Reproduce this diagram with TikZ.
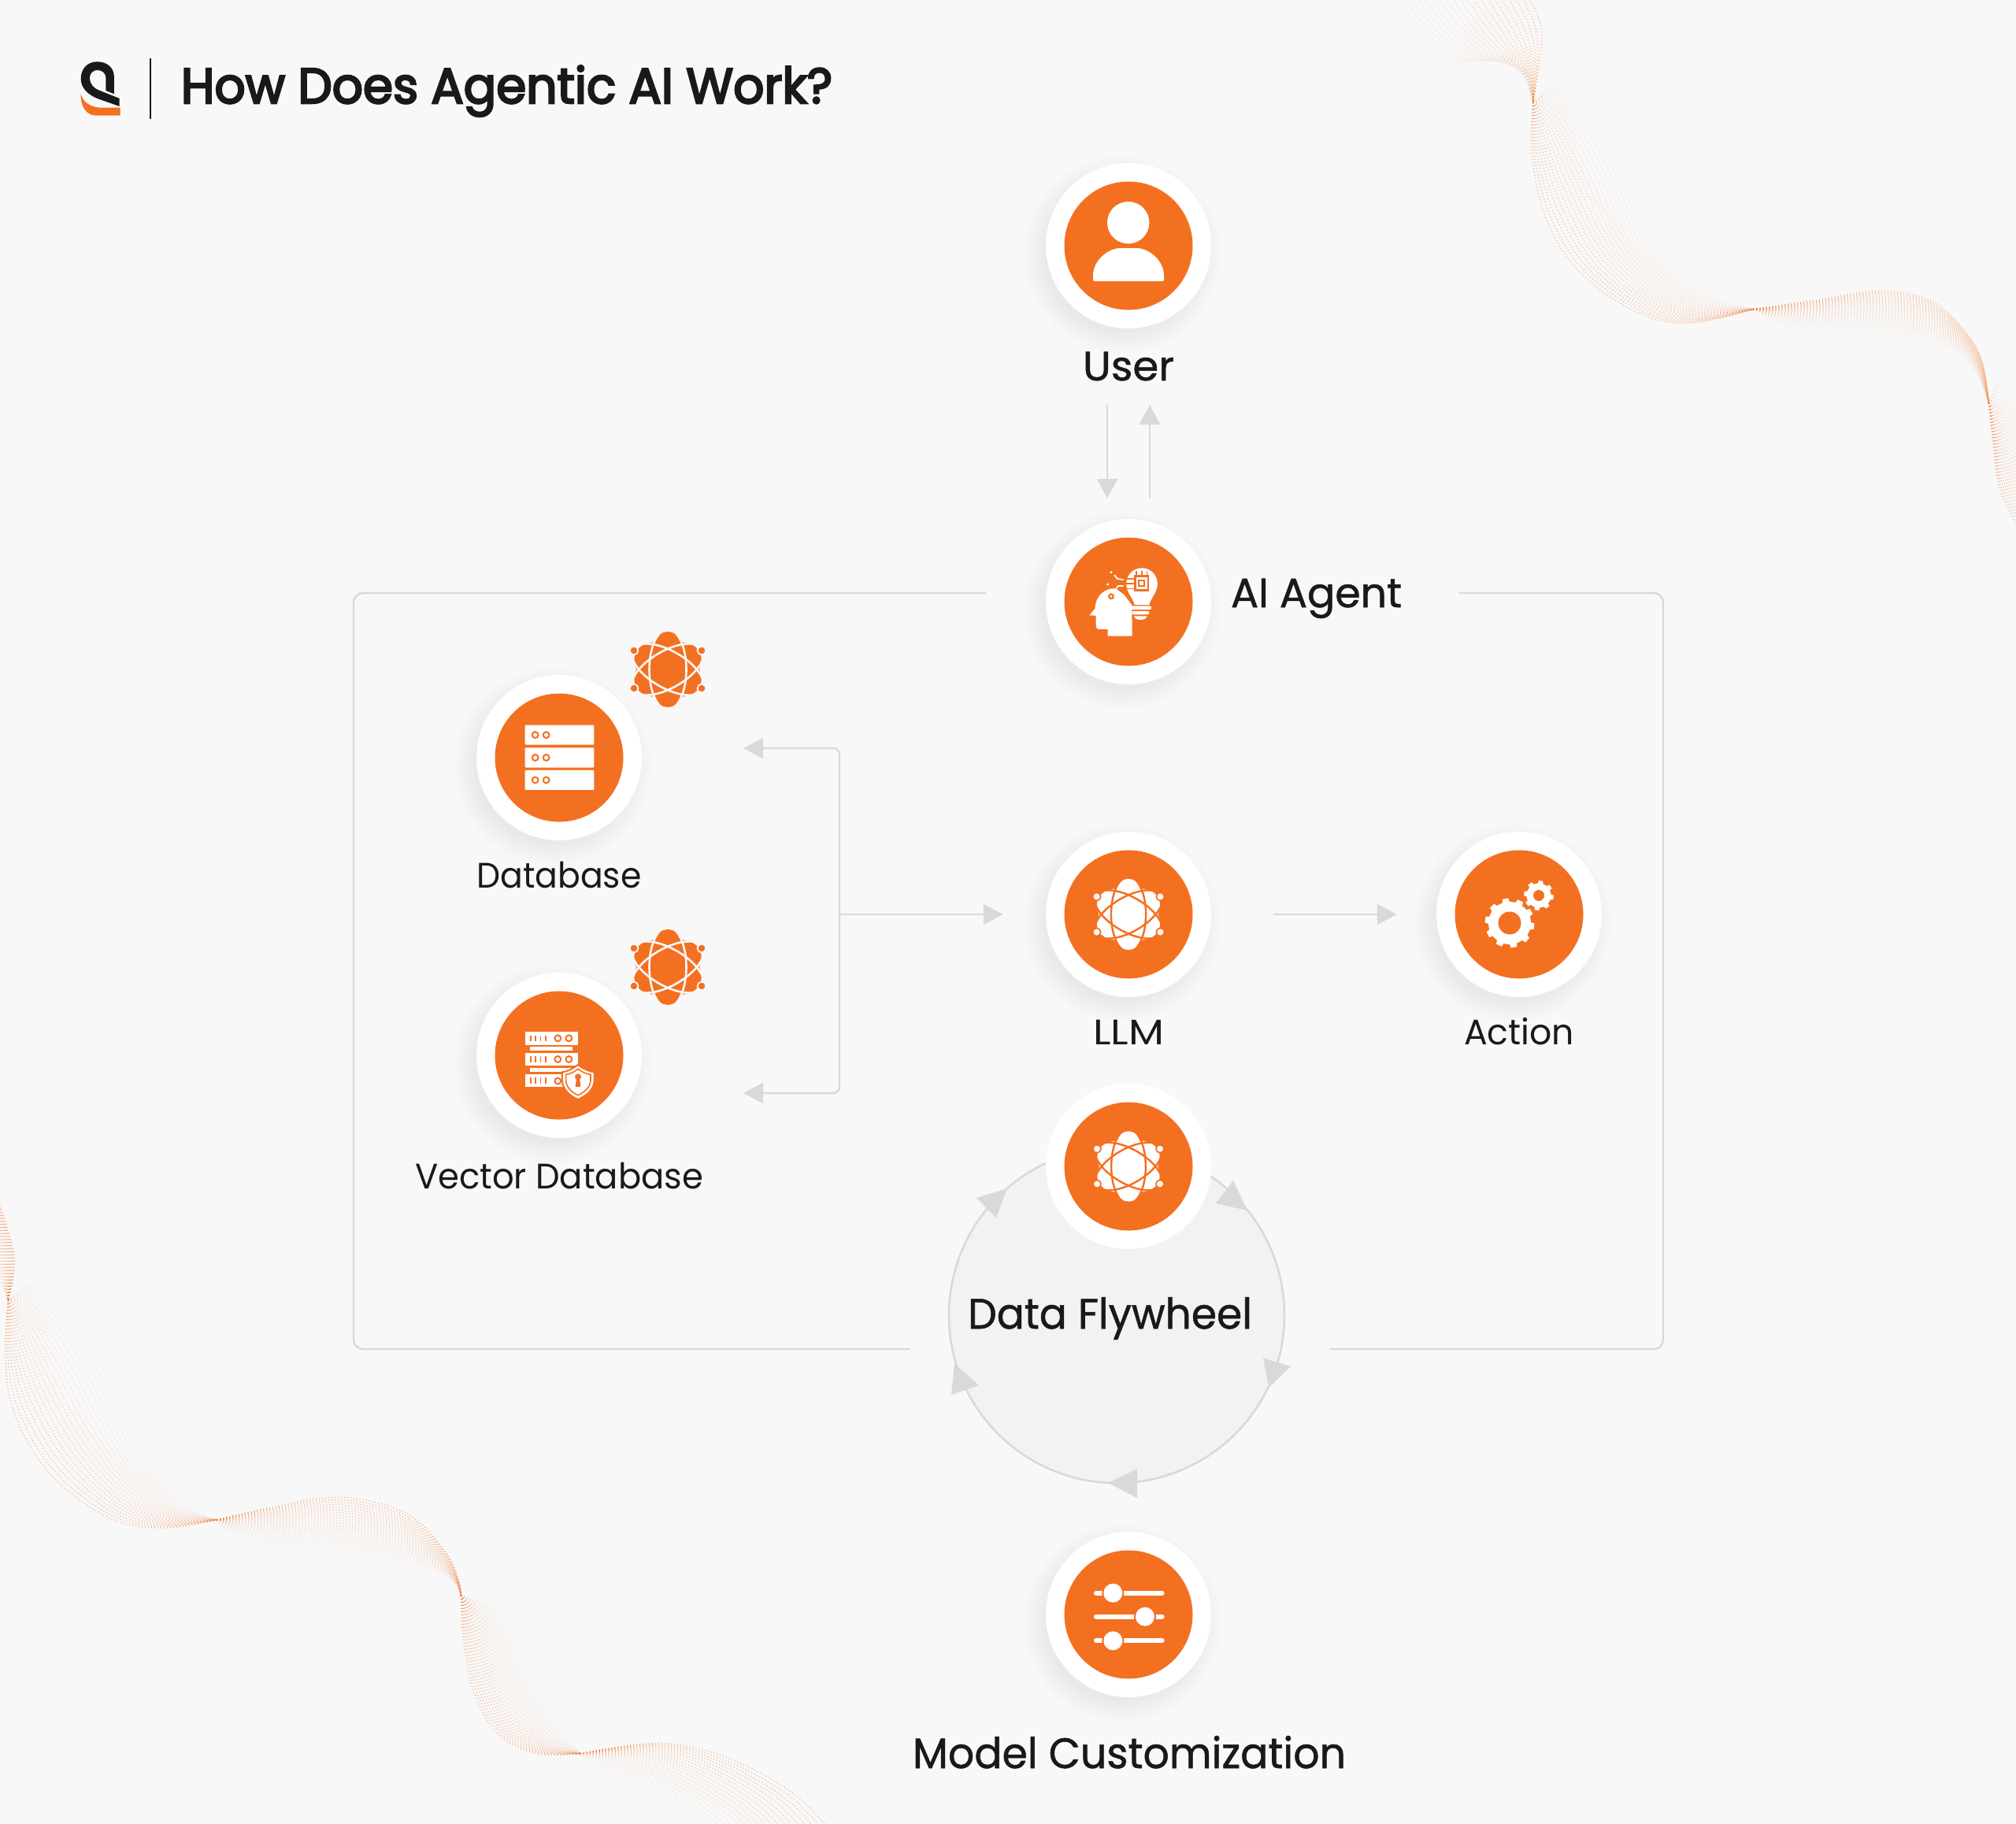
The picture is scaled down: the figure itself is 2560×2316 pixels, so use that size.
\documentclass[tikz,border=0pt]{standalone}
\usepackage{fontspec}
\usepackage{graphicx}
\usetikzlibrary{arrows.meta,shapes.geometric}
\setmainfont{Poppins}
\newfontfamily\ftitle{Poppins}[FakeBold=4]
\newfontfamily\fmedium{Poppins}[FakeBold=1]
\newfontfamily\flabel{Poppins}
\definecolor{bgc}{HTML}{F8F8F8}
\definecolor{brand}{HTML}{F47021}
\definecolor{ink}{HTML}{18191B}
\definecolor{connc}{HTML}{D9D9D9}
\definecolor{wheelc}{HTML}{F2F2F3}
\definecolor{shadowc}{HTML}{8E90AE}
\tikzset{
  whitedisc/.style={circle,fill=white,minimum size=210pt,inner sep=0pt},
  coredisc/.style={circle,fill=brand,minimum size=163pt,inner sep=0pt},
  boxline/.style={draw=connc,line width=2.4pt,rounded corners=12pt},
  conn/.style={draw=connc,line width=2.4pt,-{Triangle[length=25pt,width=26pt]}},
  tipfill/.style={fill=connc},
  wavedots/.style={draw=brand,line width=1.3pt,dash pattern=on 1pt off 3pt},
  lbl/.style={anchor=base,text=ink,inner sep=0pt,outer sep=0pt},
}
% fit text to width keeping natural height
\newcommand{\fittext}[4]{\resizebox{#1pt}{\height}{#4\fontsize{#2}{#2}\selectfont #3}}
\newcommand{\softshadow}[2]{%
  \foreach \rr in {98,100,...,126}{\fill[shadowc,opacity=.008] (#1-8,#2+11) circle[radius=\rr pt];}}
\newcommand{\wavelobe}[1]{%
  \foreach \k in {0,...,25}{%
    \pgfmathsetmacro\tt{\k/25}%
    \pgfmathsetmacro\op{0.52*(1-\tt)^1.15+0.03}%
    \gdef\pts{}%
    \foreach \xa/\ya/\xb/\yb in {#1}{%
      \pgfmathsetmacro\px{\xa+(\xb-\xa)*\tt}%
      \pgfmathsetmacro\py{\ya+(\yb-\ya)*\tt}%
      \xdef\pts{\pts (\px,\py)}%
    }%
    \edef\tmpdraw{\noexpand\draw[wavedots,opacity=\op] plot[smooth,tension=.6] coordinates {\pts};}%
    \tmpdraw
  }}
\newcommand{\atomicon}[5]{% cx cy scale fg bg
  \begin{scope}[shift={(#1,#2)},x=#3pt,y=-#3pt]
    \fill[#4] (0,0) ellipse[x radius=27,y radius=48];
    \fill[#4,rotate=60] (0,0) ellipse[x radius=30,y radius=46];
    \fill[#4,rotate=-60] (0,0) ellipse[x radius=30,y radius=46];
    \draw[#5,line width=#3*2.6pt] (0,0) ellipse[x radius=23.5,y radius=51];
    \draw[#5,line width=#3*2.6pt,rotate=60] (0,0) ellipse[x radius=23.5,y radius=51];
    \draw[#5,line width=#3*2.6pt,rotate=-60] (0,0) ellipse[x radius=23.5,y radius=51];
    \foreach \sx/\sy in {-43/-24,43/-24,-43/24,43/24}{
      \filldraw[fill=#4,draw=#5,line width=#3*1.8pt] (\sx,\sy) circle[radius=5.4];}
  \end{scope}}
\newcommand{\gearicon}[6]{% cx cy Rout Rin teeth hole
  \begin{scope}[shift={(#1,#2)}]
    \fill[white] (0,0) circle[radius=#4];
    \pgfmathsetmacro\stepa{360/#5}
    \foreach \i in {1,...,#5}{
      \pgfmathsetmacro\aa{\i*\stepa+8}
      \fill[white] ({\aa-.30*\stepa}:#4-1) -- ({\aa-.19*\stepa}:#3) -- ({\aa+.19*\stepa}:#3) -- ({\aa+.30*\stepa}:#4-1) -- cycle;
    }
    \fill[brand] (0,0) circle[radius=#6];
  \end{scope}}
\begin{document}
\begin{tikzpicture}[x=1pt,y=-1pt]
\useasboundingbox (0,0) rectangle (2560,2316);
\fill[bgc] (0,0) rectangle (2560,2316);

% dotted ribbons
\begin{scope}
\clip (0,0) rectangle (2560,2316);
\begin{scope}[shift={(1700,0)},x=.5485pt,y=-.4337pt]
\wavelobe{440/-10/30/-10,465/60/120/110,470/120/230/180,465/180/350/178,458/240/420/210,450/300/450/300}
\wavelobe{450/300/450/300,447/450/560/210,480/640/680/350,560/800/740/580,700/920/790/760,820/945/860/860,960/905/960/905}
\wavelobe{960/905/960/905,1100/880/1050/960,1250/852/1200/985,1370/880/1330/995,1450/970/1420/1025,1490/1060/1470/1080,1505/1180/1505/1180}
\wavelobe{1505/1180/1505/1180,1515/1300/1530/1100,1530/1430/1560/1110,1575/1550/1620/1250}
\end{scope}
\begin{scope}[shift={(0,1500)},x=.6887pt,y=-.5208pt]
\wavelobe{0/60/-40/60,25/170/-20/170,25/230/-5/230,15/290/15/290}
\wavelobe{15/290/15/290,10/420/100/230,25/560/200/330,90/710/265/500,200/820/290/650,300/845/320/770,400/825/400/825}
\wavelobe{400/825/400/825,500/795/450/880,630/770/580/925,750/810/700/935,820/900/790/945,845/970/835/975,850/1010/850/1010}
\wavelobe{850/1010/850/1010,855/1120/930/1050,875/1250/990/1180,920/1350/1025/1280,990/1395/1050/1350,1070/1395/1070/1395}
\wavelobe{1070/1395/1070/1395,1220/1370/1090/1440,1350/1410/1140/1500,1470/1500/1200/1560,1540/1600/1260/1620}
\end{scope}
\end{scope}

% logo
\begin{scope}[shift={(90,65)},x=.3333pt,y=-.3333pt]
\fill[ink] (165,163) -- (165,100) .. controls (165,60) and (135,40) .. (100,40) .. controls (65,40) and (38,65) .. (38,105) .. controls (38,140) and (65,165) .. (100,180) -- (185,210) -- (185,180) -- (110,150) .. controls (85,140) and (72,125) .. (72,100) .. controls (72,85) and (85,72) .. (100,72) .. controls (120,72) and (133,85) .. (133,100) -- (133,150) -- cycle;
\fill[brand] (38,162) .. controls (35,210) and (60,245) .. (95,245) -- (188,245) -- (188,215) -- (110,215) .. controls (75,212) and (45,195) .. (38,162) -- cycle;
\end{scope}
\draw[ink,line width=2.6pt] (191,74) -- (191,151);
\node[lbl,anchor=base west] (title) at (230,131) {\fittext{827}{63}{How Does Agentic AI Work?}{\ftitle}};

% frame
\coordinate (boxTL) at (1252,753);
\coordinate (boxTR) at (1853,753);
\coordinate (boxBL) at (1156,1713);
\coordinate (boxBR) at (1688,1713);
\draw[boxline] (boxTL) -- (449,753) -- (449,1713) -- (boxBL);
\draw[boxline] (boxTR) -- (2112,753) -- (2112,1713) -- (boxBR);

% flywheel ring
\node[circle,fill=wheelc,draw=connc,line width=2.6pt,minimum size=426pt,inner sep=0pt] (wheel) at (1418,1670) {};
\fill[tipfill] (1240,1521) -- (1279,1509) -- (1265,1546) -- cycle;
\fill[tipfill] (1566,1499) -- (1544,1528) -- (1584,1537) -- cycle;
\fill[tipfill] (1604,1724) -- (1639,1735) -- (1611,1762) -- cycle;
\fill[tipfill] (1444,1865) -- (1407,1883) -- (1444,1902) -- cycle;
\fill[tipfill] (1212,1731) -- (1243,1759) -- (1208,1771) -- cycle;

% shadows
\softshadow{1433}{312}
\softshadow{1433}{764}
\softshadow{710}{962}
\softshadow{710}{1340}
\softshadow{1433}{1161}
\softshadow{1929}{1161}
\softshadow{1433}{2050}

% discs
\node[whitedisc] (user) at (1433,312) {};
\node[coredisc] at (user) {};
\node[whitedisc] (agent) at (1433,764) {};
\node[coredisc] at (agent) {};
\node[whitedisc] (db) at (710,962) {};
\node[coredisc] at (db) {};
\node[whitedisc] (vdb) at (710,1340) {};
\node[coredisc] at (vdb) {};
\node[whitedisc] (llm) at (1433,1161) {};
\node[coredisc] at (llm) {};
\node[whitedisc] (action) at (1929,1161) {};
\node[coredisc] at (action) {};
\node[whitedisc] (fly) at (1433,1481) {};
\node[coredisc] at (fly) {};
\node[whitedisc] (model) at (1433,2050) {};
\node[coredisc] at (model) {};

% connectors
\coordinate (userDownA) at (1406,514);
\coordinate (userDownB) at (1406,633);
\coordinate (userUpA) at (1460,633);
\coordinate (userUpB) at (1460,514);
\draw[conn] (userDownA) -- (userDownB);
\draw[conn] (userUpA) -- (userUpB);
\coordinate (dbTip) at (944,950);
\coordinate (vdbTip) at (944,1388);
\coordinate (junction) at (1066,1161);
\draw[conn,{Triangle[length=25pt,width=26pt]}-{Triangle[length=25pt,width=26pt]},rounded corners=8pt] (dbTip) -- (1066,950) -- (1066,1388) -- (vdbTip);
\draw[conn,shorten >=54pt] (junction) -- (llm);
\draw[conn,shorten <=79pt,shorten >=50pt] (llm) -- (action);

% user icon
\fill[white] (1432.7,282.7) circle[radius=26.7];
\fill[white,rounded corners=2pt] (1388,357) -- (1388,352) .. controls (1388,330) and (1408,315) .. (1425,315) -- (1441,315) .. controls (1458,315) and (1478,330) .. (1478,352) -- (1478,357) -- cycle;

% agent icon
\begin{scope}[shift={(1300,640)},x=.3333pt,y=-.3333pt]
\fill[white] (250,424) -- (272,398) .. controls (272,350) and (310,318) .. (350,322) -- (382,345) -- (412,385) -- (413,503) -- (320,503) -- (320,477) -- (285,477) .. controls (278,477) and (275,470) .. (275,462) -- (275,425) -- cycle;
\fill[brand] (333,352) circle[radius=12];
\fill[white] (333,352) circle[radius=5];
\filldraw[fill=white,draw=brand,line width=1.6pt] (420,387) .. controls (415,360) and (388,340) .. (388,303) .. controls (388,268) and (416,241) .. (450,241) .. controls (484,241) and (512,268) .. (512,303) .. controls (512,340) and (485,360) .. (480,387) -- cycle;
\fill[white,rounded corners=2pt] (403,388) rectangle (486,402);
\fill[white,rounded corners=2pt] (412,408) rectangle (478,421);
\fill[white] (420,427) -- (470,427) .. controls (468,436) and (458,441) .. (445,441) .. controls (432,441) and (422,436) .. (420,427) -- cycle;
\fill[brand] (420,270) rectangle (478,332);
\fill[white] (428,278) rectangle (470,324);
\fill[brand] (436,287) rectangle (462,315);
\fill[white] (442,294) rectangle (456,308);
\foreach \px in {428,449,470}{\fill[brand] (\px-2.5,256) rectangle (\px+2.5,270);}
\foreach \py in {285,303,322}{\fill[brand] (382,\py-2.5) rectangle (420,\py+2.5);}
\fill[white] (333,260) circle[radius=5];
\fill[white] (320,306) circle[radius=5];
\draw[white,line width=1.8pt] (345,270) -- (357,285) -- (380,288);
\draw[white,line width=1.8pt] (352,322) -- (360,312) -- (380,312);
\end{scope}

% database icon
\begin{scope}[shift={(580,780)},x=.3333pt,y=-.3333pt]
\foreach \ya/\yb in {422/497,508/584,594/669}{
  \fill[white,rounded corners=1pt] (260,\ya) rectangle (523,\yb);
  \foreach \cxx in {299,341}{
    \fill[brand] (\cxx,{(\ya+\yb)/2}) circle[radius=15];
    \fill[white] (\cxx,{(\ya+\yb)/2}) circle[radius=8];
  }}
\end{scope}
\atomicon{848}{850}{1}{brand}{bgc}

% vector database icon
\begin{scope}[shift={(580,1160)},x=.3333pt,y=-.3333pt]
\fill[white] (260,450) rectangle (461,500);
\fill[white] (280,508) rectangle (440,522);
\fill[white] (260,532) rectangle (461,578);
\fill[white] (280,588) rectangle (440,602);
\fill[white] (260,612) rectangle (420,660);
\foreach \yy/\hh in {475/11,555/11,636/11}{
  \foreach \tx in {283,301,320,340}{\fill[brand] (\tx-2.5,\yy-\hh) rectangle (\tx+2.5,\yy+\hh);}}
\foreach \cxx/\cyy in {385/475,427/475,385/555,427/555,385/638}{
  \fill[brand] (\cxx,\cyy) circle[radius=15];
  \fill[white] (\cxx,\cyy) circle[radius=8];}
\filldraw[fill=white,draw=brand,line width=2pt] (462,576) .. controls (482,592) and (505,602) .. (524,604) -- (524,635) .. controls (524,672) and (490,696) .. (462,708) .. controls (434,696) and (402,672) .. (402,635) -- (402,604) .. controls (420,602) and (442,592) .. (462,576) -- cycle;
\draw[brand,line width=1.6pt] (462,592) .. controls (478,604) and (496,612) .. (510,613) -- (510,635) .. controls (510,662) and (484,682) .. (462,692) .. controls (440,682) and (416,662) .. (416,635) -- (416,613) .. controls (430,612) and (446,604) .. (462,592) -- cycle;
\fill[brand] (462,622) circle[radius=12];
\fill[brand] (456,625) -- (468,625) -- (472,660) -- (452,660) -- cycle;
\end{scope}
\atomicon{848}{1228}{1}{brand}{bgc}

% llm + flywheel icons
\atomicon{1433}{1161}{.94}{white}{brand}
\atomicon{1433}{1481}{.93}{white}{brand}

% gears
\gearicon{1917}{1172}{31.5}{27}{10}{14.5}
\gearicon{1954}{1137}{19}{15.5}{8}{7}

% sliders
\begin{scope}[shift={(1330,1950)},x=.3333pt,y=-.3333pt]
\foreach \yy/\kx in {218/250,308/372,400/250}{
  \draw[white,line width=6pt,line cap=round] (186,\yy) -- (437,\yy);
  \fill[brand] (\kx,\yy) circle[radius=42];
  \fill[white] (\kx,\yy) circle[radius=36];}
\end{scope}

% labels
\node[lbl] (tuser) at (1433,483) {\fittext{116}{52}{User}{\fmedium}};
\node[lbl,anchor=base west] (tagent) at (1563,771) {\fittext{217}{52}{AI Agent}{\fmedium}};
\node[lbl] (tdb) at (710,1127) {\fittext{209}{45}{Database}{\flabel}};
\node[lbl] (tvdb) at (710,1509) {\fittext{366}{45}{Vector Database}{\flabel}};
\node[lbl] (tllm) at (1433,1326) {\fittext{90}{45}{LLM}{\flabel}};
\node[lbl] (taction) at (1929,1326) {\fittext{140}{45}{Action}{\flabel}};
\node[lbl,anchor=base west] (twheel) at (1229,1687) {\fittext{361}{54}{Data Flywheel}{\fmedium}};
\node[lbl] (tmodel) at (1434,2245) {\fittext{550}{54}{Model Customization}{\fmedium}};
\end{tikzpicture}
\end{document}
